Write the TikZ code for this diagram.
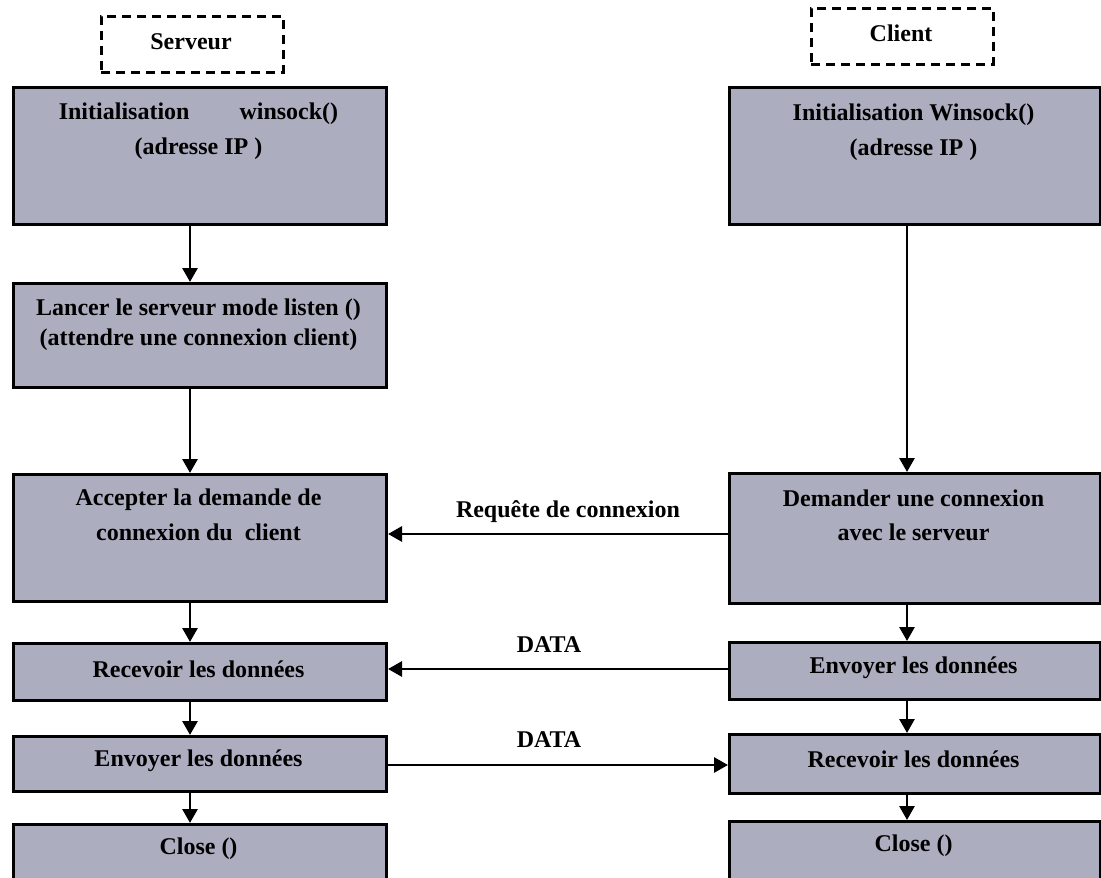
\documentclass[tikz,border=0pt]{standalone}
\usepackage{fontspec}
\setmainfont{Liberation Serif}
\usetikzlibrary{arrows.meta}
\definecolor{boxfill}{RGB}{173,173,192}
\begin{document}
\begin{tikzpicture}[x=1pt,y=-1pt,
  box/.style={draw=black, line width=3pt, fill=boxfill, anchor=north west, inner sep=0pt},
  txt/.style={font=\bfseries\fontsize{24}{30}\selectfont, align=center, inner sep=0pt},
  hdr/.style={draw=black, line width=2.8pt, dash pattern=on 9pt off 6pt, anchor=north west, inner sep=0pt},
  arr/.style={line width=2.8pt, -{Triangle[length=14pt,width=15pt]}},
]
\useasboundingbox (0,0) rectangle (1101,878);
\clip (0,0) rectangle (1101,878);

% column guides
\coordinate (lx) at (190,0);
\coordinate (rx) at (907,0);
\coordinate (yreq) at (0,534);
\coordinate (yd1) at (0,669);
\coordinate (yd2) at (0,765);

% headers
\node[hdr, minimum width=182pt, minimum height=56pt] (SH) at (100,15) {};
\node[txt] (SHt) at (191,42) {Serveur};
\node[hdr, minimum width=182pt, minimum height=56pt] (CH) at (810,7) {};
\node[txt] (CHt) at (901,33) {Client};

% server column
\node[box, minimum width=373pt, minimum height=137pt] (L1) at (12,86) {};
\node[txt] (L1t) at (198.5,131) {Initialisation\hspace*{50pt}winsock()\\[5pt](adresse IP )};
\node[box, minimum width=373pt, minimum height=104pt] (L2) at (12,282) {};
\node[txt] (L2t) at (198.5,325) {Lancer le serveur mode listen ()\\(attendre une connexion client)};
\node[box, minimum width=373pt, minimum height=127pt] (L3) at (12,473) {};
\node[txt] (L3t) at (198.5,515) {Accepter la demande de\\[5pt]connexion du\ \ client};
\node[box, minimum width=373pt, minimum height=57pt] (L4) at (12,642) {};
\node[txt] (L4t) at (198.5,669) {Recevoir les données};
\node[box, minimum width=373pt, minimum height=55pt] (L5) at (12,735) {};
\node[txt] (L5t) at (198.5,761) {Envoyer les données};
\node[box, minimum width=373pt, minimum height=80pt] (L6) at (12,823) {};
\node[txt] (L6t) at (198.5,849) {Close ()};

% client column
\node[box, minimum width=371pt, minimum height=137pt] (R1) at (728,86) {};
\node[txt] (R1t) at (913.5,132) {Initialisation Winsock()\\[5pt](adresse IP )};
\node[box, minimum width=371pt, minimum height=130pt] (R3) at (728,472) {};
\node[txt] (R3t) at (913.5,515) {Demander une connexion\\[4pt]avec le serveur};
\node[box, minimum width=371pt, minimum height=57pt] (R4) at (728,641) {};
\node[txt] (R4t) at (913.5,668) {Envoyer les données};
\node[box, minimum width=371pt, minimum height=59pt] (R5) at (728,733) {};
\node[txt] (R5t) at (913.5,759) {Recevoir les données};
\node[box, minimum width=371pt, minimum height=80pt] (R6) at (728,820) {};
\node[txt] (R6t) at (913.5,846) {Close ()};

% vertical arrows
\draw[arr] (L1.south -| lx) -- (L2.north -| lx);
\draw[arr] (L2.south -| lx) -- (L3.north -| lx);
\draw[arr] (L3.south -| lx) -- (L4.north -| lx);
\draw[arr] (L4.south -| lx) -- (L5.north -| lx);
\draw[arr] (L5.south -| lx) -- (L6.north -| lx);
\draw[arr] (R1.south -| rx) -- (R3.north -| rx);
\draw[arr] (R3.south -| rx) -- (R4.north -| rx);
\draw[arr] (R4.south -| rx) -- (R5.north -| rx);
\draw[arr] (R5.south -| rx) -- (R6.north -| rx);

% horizontal arrows
\draw[arr] (R3.west |- yreq) -- (L3.east |- yreq);
\node[txt] (reqt) at (568,512) {Requête de connexion};
\draw[arr] (R4.west |- yd1) -- (L4.east |- yd1);
\node[txt] (d1t) at (549,645) {DATA};
\draw[arr] (L5.east |- yd2) -- (R5.west |- yd2);
\node[txt] (d2t) at (549,740) {DATA};
\end{tikzpicture}
\end{document}
